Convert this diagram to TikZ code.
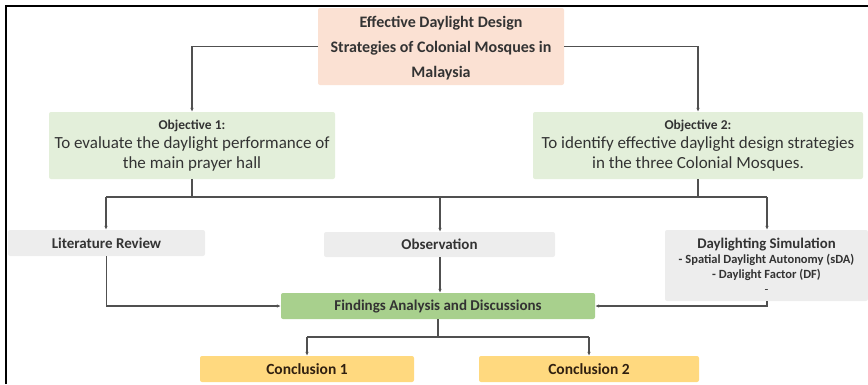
\documentclass[tikz,border=0pt]{standalone}
\usepackage{fontspec}
\setmainfont{Carlito}
\usetikzlibrary{arrows.meta}
\definecolor{titlefill}{HTML}{FBE1D3}
\definecolor{objfill}{HTML}{E3EFDA}
\definecolor{grayfill}{HTML}{EDEDED}
\definecolor{findfill}{HTML}{A8D08D}
\definecolor{conclfill}{HTML}{FFD97F}
\definecolor{txt}{HTML}{333333}
\definecolor{linec}{HTML}{505050}
\tikzset{
  box/.style={rectangle, rounded corners=2pt, inner sep=0pt, align=center, text=txt},
  titlebox/.style={box, fill=titlefill, minimum width=246pt, minimum height=77pt,
    font=\fontsize{16}{25}\selectfont\bfseries},
  objbox/.style={box, fill=objfill, minimum height=67pt,
    font=\fontsize{17}{19.5}\selectfont},
  graybox/.style={box, fill=grayfill},
  findbox/.style={box, fill=findfill, minimum width=314pt, minimum height=26pt,
    font=\fontsize{15}{16}\selectfont\bfseries},
  conclbox/.style={box, fill=conclfill, minimum height=26pt, text=black!75!brown,
    font=\fontsize{15.5}{16}\selectfont\bfseries},
  conn/.style={draw=linec, line width=1.3pt},
  arr/.style={conn, -{Latex[length=4pt,width=3.5pt]}}
}
\begin{document}
\begin{tikzpicture}[x=1pt,y=-1pt]
\useasboundingbox (0,0) rectangle (868,384);
% frame
\draw[line width=1.6pt] (6,384) -- (6,6) -- (868,6);
% nodes
\node[titlebox, text depth=-3pt] (title) at (441,46.5) {Effective Daylight Design\\ Strategies of Colonial Mosques in\\ Malaysia};
\node[objbox, minimum width=286pt] (obj1) at (192,145.5) {{\fontsize{13.5}{19.5}\selectfont\bfseries Objective 1:}\\ To evaluate the daylight performance of\\ the main prayer hall};
\node[objbox, minimum width=330pt] (obj2) at (698,145.5) {{\fontsize{13.5}{19.5}\selectfont\bfseries Objective 2:}\\ To identify effective daylight design strategies\\ in the three Colonial Mosques.};
\node[graybox, minimum width=197pt, minimum height=26pt, font=\fontsize{15}{16}\selectfont\bfseries] (lit) at (106.5,243) {Literature Review};
\node[graybox, minimum width=231pt, minimum height=25pt, font=\fontsize{15}{16}\selectfont\bfseries] (obs) at (439.5,244.5) {Observation};
\node[graybox, minimum width=203pt, minimum height=71pt, font=\fontsize{12.5}{15}\selectfont\bfseries] (sim) at (766.5,265.5) {{\fontsize{14.8}{16}\selectfont Daylighting Simulation}\\ - Spatial Daylight Autonomy (sDA)\\ - Daylight Factor (DF)\\ {\mdseries -}};
\node[findbox] (find) at (438,306) {Findings Analysis and Discussions};
\node[conclbox, minimum width=214pt] (c1) at (307,369) {Conclusion 1};
\node[conclbox, minimum width=220pt] (c2) at (589,369) {Conclusion 2};
% coordinates
\coordinate (bus1) at (192,197);
\coordinate (bus2) at (698,197);
\coordinate (busL) at (106,197);
\coordinate (busR) at (767,197);
\coordinate (busM) at (440,197);
\coordinate (cb) at (438,337);
\coordinate (cbL) at (307,337);
\coordinate (cbR) at (589,337);
% connectors
\draw[arr] (title.west) -| (obj1.north);
\draw[arr] (title.east) -| (obj2.north);
\draw[conn] (obj1.south) -- (bus1);
\draw[conn] (obj2.south) -- (bus2);
\draw[conn] (busL) -- (busR);
\draw[arr] (busL) -- (busL |- lit.north);
\draw[arr] (busM) -- (busM |- obs.north);
\draw[arr] (busR) -- (busR |- sim.north);
\draw[arr] (lit.south) |- (find.west);
\draw[arr] (obs.south -| busM) -- (busM |- find.north);
\draw[arr] (sim.south -| busR) |- (find.east);
\draw[conn] (find.south) -- (cb);
\draw[conn] (cbL) -- (cbR);
\draw[arr] (cbL) -- (c1.north);
\draw[arr] (cbR) -- (c2.north);
\end{tikzpicture}
\end{document}
